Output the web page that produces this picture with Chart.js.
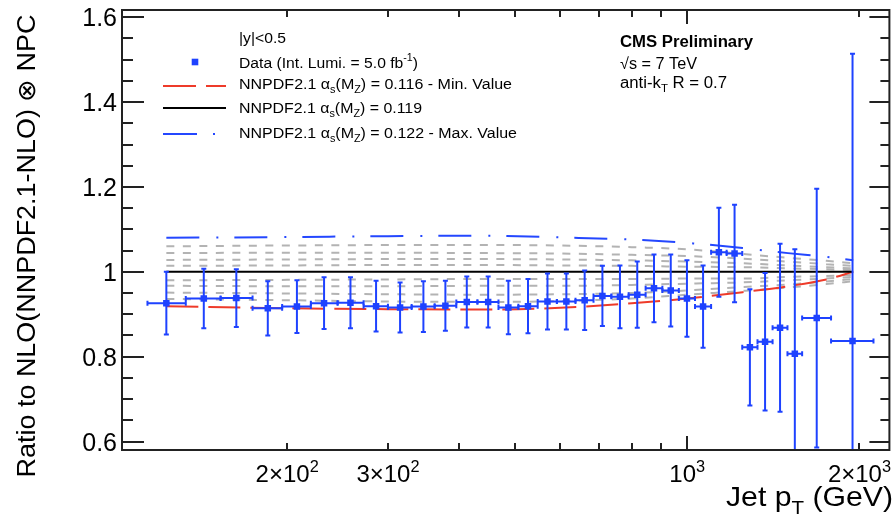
<!DOCTYPE html>
<html><head><meta charset="utf-8">
<script src="https://cdn.jsdelivr.net/npm/chart.js@4/dist/chart.umd.min.js"></script>
<style>html,body{margin:0;padding:0;background:#fff;}canvas{display:block;}</style>
</head><body>
<canvas id="c" width="894" height="521"></canvas>
<script>
// ---- data: CMS inclusive jets |y|<0.5, ratio data / NLO(NNPDF2.1) x NPC ----
const ptCenter = [123,143,163,185,208,232,258,286,315,346,378,412,449,487,527,570,615,662,711,763,818,875,936,999,1066,1136,1210,1287,1368,1453,1542,1684,1945];
const ptLow    = [114,133,153,174,196,220,245,272,300,330,362,395,430,468,507,548,592,638,686,737,790,846,905,967,1032,1101,1172,1248,1327,1410,1497,1588,1784];
const ptHigh   = [133,153,174,196,220,245,272,300,330,362,395,430,468,507,548,592,638,686,737,790,846,905,967,1032,1101,1172,1248,1327,1410,1497,1588,1784,2116];
const dataRatio = [0.926,0.937,0.938,0.914,0.918,0.926,0.927,0.919,0.916,0.918,0.920,0.929,0.929,0.916,0.919,0.930,0.930,0.933,0.943,0.941,0.946,0.961,0.956,0.937,0.918,1.046,1.043,0.822,0.835,0.868,0.807,0.891,0.837];
const dataErr   = [0.074,0.070,0.068,0.064,0.062,0.061,0.060,0.060,0.059,0.060,0.059,0.060,0.060,0.063,0.064,0.066,0.066,0.070,0.071,0.074,0.078,0.080,0.085,0.090,0.097,0.105,0.115,0.137,0.162,0.198,0.246,0.305,0.677];

// ---- theory curves (alpha_s variations) ----
const theoryPt  = [123,200,300,450,600,800,1000,1250,1500,1750,1950];
const nnpdf116  = [0.919,0.914,0.912,0.911,0.915,0.926,0.937,0.952,0.966,0.982,1.000];
const nnpdf119  = [1,1,1,1,1,1,1,1,1,1,1];
const nnpdf122  = [1.080,1.082,1.084,1.085,1.081,1.076,1.068,1.056,1.044,1.035,1.027];
const scanUp4   = [1.060,1.062,1.063,1.063,1.062,1.058,1.053,1.042,1.033,1.026,1.020];
const scanUp3   = [1.044,1.045,1.045,1.044,1.043,1.040,1.037,1.031,1.024,1.018,1.014];
const scanUp2   = [1.028,1.029,1.030,1.030,1.029,1.027,1.024,1.020,1.015,1.011,1.008];
const scanUp1   = [1.014,1.015,1.016,1.016,1.015,1.014,1.012,1.011,1.008,1.006,1.004];
const scanDn1   = [0.980,0.981,0.982,0.983,0.983,0.983,0.984,0.984,0.988,0.990,0.993];
const scanDn2   = [0.967,0.966,0.966,0.967,0.967,0.969,0.972,0.975,0.980,0.984,0.988];
const scanDn3   = [0.951,0.949,0.947,0.946,0.947,0.950,0.956,0.964,0.970,0.977,0.983];
const scanDn4   = [0.936,0.933,0.930,0.929,0.931,0.937,0.946,0.955,0.963,0.971,0.978];

// ---- axis ticks ----
const yTickValues = [0.6,0.8,1.0,1.2,1.4,1.6];
const yTickLabels = ['0.6','0.8','1','1.2','1.4','1.6'];
const xLabelValues = [200,300,1000,2000];
const xLabelMant   = ['2\u00D710','3\u00D710','10','2\u00D710'];
const xLabelExp    = ['2','2','3','3'];
const xShortTicks  = [200,300,400,500,600,700,800,900,2000];
const xLongTicks   = [1000];

const FONT = '"Liberation Sans", Arial, Helvetica, sans-serif';
const DATA_COLOR = '#1e42ff';
const RED = '#ee3b2a';
const BLUE = '#2447ff';
const GRAY = '#b3b3b3';

function pts(ys){ return theoryPt.map((x,i)=>({x:x,y:ys[i]})); }
function grayDs(ys){ return {data:pts(ys), showLine:true, pointRadius:0, borderColor:GRAY, borderWidth:2, borderDash:[8,8.5], cubicInterpolationMode:'monotone', order:5}; }

function segFont(size, mode, weight){ const s = mode ? size*0.68 : size; return (weight||'normal')+' '+s.toFixed(2)+'px '+FONT; }
function richWidth(ctx, segs, size, weight){
  let w=0; for(const [t,m] of segs){ ctx.font=segFont(size,m,weight); w+=ctx.measureText(t).width; } return w;
}
function drawRich(ctx, segs, x, y, size, o){
  o=o||{};
  const W = richWidth(ctx, segs, size, o.weight);
  const sx = o.width ? o.width/W : 1;
  let x0 = x;
  if(o.align==='right') x0 = x - W*sx; else if(o.align==='center') x0 = x - W*sx/2;
  ctx.save();
  ctx.translate(x0, y); ctx.scale(sx,1);
  ctx.fillStyle = o.color||'#000'; ctx.textBaseline='alphabetic'; ctx.textAlign='left';
  let cx=0;
  for(const [t,m] of segs){
    ctx.font=segFont(size,m,o.weight);
    const dy = m==='sup' ? -size*0.42 : (m==='sub' ? size*0.28 : 0);
    ctx.fillText(t, cx, dy);
    cx += ctx.measureText(t).width;
  }
  ctx.restore();
}

const rootPlugin = {
  id:'rootStyle',
  beforeDatasetDraw(chart, args){
    if(args.index !== chart.data.datasets.length-1) return;
    const ctx=chart.ctx, xs=chart.scales.x, ys=chart.scales.y, a=chart.chartArea;
    ctx.save();
    ctx.beginPath(); ctx.rect(a.left,a.top,a.right-a.left,a.bottom-a.top); ctx.clip();
    ctx.strokeStyle=DATA_COLOR; ctx.lineWidth=2; ctx.lineCap='butt';
    for(let i=0;i<ptCenter.length;i++){
      const px=xs.getPixelForValue(ptCenter[i]), py=ys.getPixelForValue(dataRatio[i]);
      const yl=ys.getPixelForValue(dataRatio[i]-dataErr[i]), yh=ys.getPixelForValue(dataRatio[i]+dataErr[i]);
      const xl=xs.getPixelForValue(ptLow[i]), xh=xs.getPixelForValue(ptHigh[i]);
      ctx.beginPath();
      ctx.moveTo(px,yl); ctx.lineTo(px,yh);
      ctx.moveTo(xl,py); ctx.lineTo(xh,py);
      ctx.moveTo(px-2.5,yl); ctx.lineTo(px+2.5,yl);
      ctx.moveTo(px-2.5,yh); ctx.lineTo(px+2.5,yh);
      ctx.moveTo(xl,py-2.5); ctx.lineTo(xl,py+2.5);
      ctx.moveTo(xh,py-2.5); ctx.lineTo(xh,py+2.5);
      ctx.stroke();
    }
    ctx.restore();
  },
  afterDraw(chart){
    const ctx=chart.ctx, xs=chart.scales.x, ys=chart.scales.y, a=chart.chartArea;
    ctx.save();
    ctx.strokeStyle='#222'; ctx.lineWidth=2;
    ctx.strokeRect(a.left, a.top, a.right-a.left, a.bottom-a.top);
    ctx.beginPath();
    for(let k=0;k<=20;k++){
      const v = 0.6 + k*0.05;
      const py = Math.round(ys.getPixelForValue(v));
      const major = (k%4===0);
      const L = major?22:11, R = major?20:9;
      ctx.moveTo(a.left,py); ctx.lineTo(a.left+L,py);
      ctx.moveTo(a.right,py); ctx.lineTo(a.right-R,py);
    }
    for(const v of xShortTicks){
      const px=Math.round(xs.getPixelForValue(v));
      ctx.moveTo(px,a.bottom); ctx.lineTo(px,a.bottom-7);
      ctx.moveTo(px,a.top); ctx.lineTo(px,a.top+7);
    }
    for(const v of xLongTicks){
      const px=Math.round(xs.getPixelForValue(v));
      ctx.moveTo(px,a.bottom); ctx.lineTo(px,a.bottom-14);
      ctx.moveTo(px,a.top); ctx.lineTo(px,a.top+14);
    }
    ctx.stroke();
    ctx.restore();

    yTickValues.forEach((v,i)=>{
      const py=ys.getPixelForValue(v);
      drawRich(ctx, [[yTickLabels[i],'']], 117, py+9, 25, {align:'right'});
    });
    xLabelValues.forEach((v,i)=>{
      const px=xs.getPixelForValue(v);
      drawRich(ctx, [[xLabelMant[i],''],[xLabelExp[i],'sup']], px, 482, 24, {align:'center'});
    });
    drawRich(ctx, [['Jet p',''],['T','sub'],[' (GeV)','']], 893, 506, 28, {align:'right', width:167});
    ctx.save();
    ctx.translate(35, 246); ctx.rotate(-Math.PI/2);
    drawRich(ctx, [['Ratio to NLO(NNPDF2.1-NLO) \u2297 NPC','']], 0, 0, 25, {align:'center', width:463});
    ctx.restore();

    const LX=239, FS=15.5;
    drawRich(ctx, [['|y|<0.5','']], LX, 43, FS, {width:47});
    ctx.fillStyle=DATA_COLOR; ctx.fillRect(195-3.3, 62-3.3, 6.6, 6.6);
    drawRich(ctx, [['Data (Int. Lumi. = 5.0 fb',''],['-1','sup'],[')','']], LX, 67.5, FS, {width:179});
    ctx.save(); ctx.lineWidth=2;
    ctx.strokeStyle=RED; ctx.setLineDash([33,10]); ctx.beginPath(); ctx.moveTo(163,86); ctx.lineTo(226,86); ctx.stroke();
    ctx.strokeStyle='#000'; ctx.setLineDash([]); ctx.beginPath(); ctx.moveTo(163,108); ctx.lineTo(226,108); ctx.stroke();
    ctx.strokeStyle=BLUE; ctx.setLineDash([34,16,2,16]); ctx.beginPath(); ctx.moveTo(163,134); ctx.lineTo(226,134); ctx.stroke();
    ctx.restore();
    const alphaSegs = (rest)=>[['NNPDF2.1 \u03B1',''],['s','sub'],['(M',''],['Z','sub'],[rest,'']];
    drawRich(ctx, alphaSegs(') = 0.116 - Min. Value'), LX, 88.5, FS, {width:273});
    drawRich(ctx, alphaSegs(') = 0.119'), LX, 112.7, FS, {width:183});
    drawRich(ctx, alphaSegs(') = 0.122 - Max. Value'), LX, 137.7, FS, {width:278});

    drawRich(ctx, [['CMS Preliminary','']], 620, 47, 16, {weight:'bold', width:133});
    drawRich(ctx, [['\u221As = 7 TeV','']], 620, 69, 16, {width:77});
    drawRich(ctx, [['anti-k',''],['T','sub'],[' R = 0.7','']], 620, 88, 16, {width:107});
  }
};

const datasets = [
  grayDs(scanUp4), grayDs(scanUp3), grayDs(scanUp2), grayDs(scanUp1),
  grayDs(scanDn1), grayDs(scanDn2), grayDs(scanDn3), grayDs(scanDn4),
  {data:pts(nnpdf116), showLine:true, pointRadius:0, borderColor:RED, borderWidth:2, borderDash:[32,10], cubicInterpolationMode:'monotone', order:4},
  {data:pts(nnpdf119), showLine:true, pointRadius:0, borderColor:'#000', borderWidth:2, order:3},
  {data:pts(nnpdf122), showLine:true, pointRadius:0, borderColor:BLUE, borderWidth:2, borderDash:[33,17,2,16], cubicInterpolationMode:'monotone', order:2},
  {data:ptCenter.map((x,i)=>({x:x,y:dataRatio[i]})), showLine:false, pointStyle:'rect', pointRadius:4.6, pointBorderWidth:0, backgroundColor:DATA_COLOR, borderColor:DATA_COLOR, order:1}
];

new Chart(document.getElementById('c'), {
  type:'scatter',
  data:{datasets},
  options:{
    responsive:false, animation:false, devicePixelRatio:1,
    layout:{padding:{left:122, top:10, right:1, bottom:71}},
    scales:{
      x:{type:'logarithmic', min:102.9, max:2256, display:false},
      y:{type:'linear', min:0.58, max:1.617, display:false}
    },
    plugins:{legend:{display:false}, tooltip:{enabled:false}},
    events:[]
  },
  plugins:[rootPlugin]
});
</script>
</body></html>
